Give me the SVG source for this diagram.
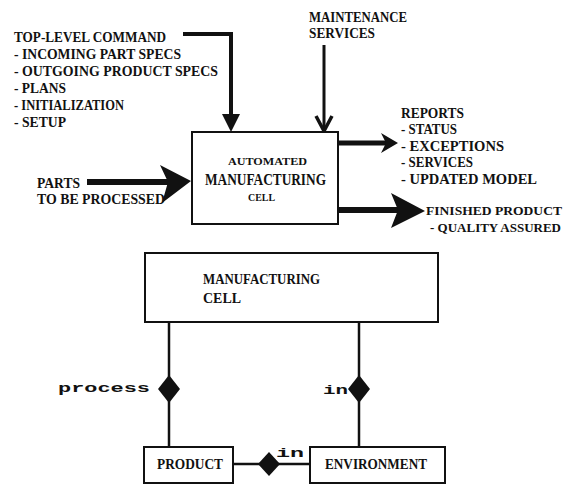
<svg xmlns="http://www.w3.org/2000/svg" width="567" height="486" viewBox="0 0 567 486">
<style>
  .t { font-family: "Liberation Serif", "DejaVu Serif", serif; font-weight: bold; font-size: 14px; fill: #111; }
  .t13 { font-family: "Liberation Serif", "DejaVu Serif", serif; font-weight: bold; font-size: 13px; fill: #111; }
  .sm { font-family: "Liberation Serif", "DejaVu Serif", serif; font-weight: bold; font-size: 11px; fill: #111; }
  .big { font-family: "Liberation Serif", "DejaVu Serif", serif; font-weight: bold; font-size: 17px; fill: #111; }
  .m { font-family: "Liberation Mono", "DejaVu Sans Mono", monospace; font-weight: bold; font-size: 13px; fill: #111; }
  .box { fill: #fff; stroke: #111; stroke-width: 2; }
  .ln { fill: none; stroke: #111; }
  .ah { fill: #111; stroke: none; }
</style>
<rect width="567" height="486" fill="#fff"/>

<g id="connectors">
  <!-- top-level command -->
  <polyline class="ln" stroke-width="4" points="183,34 231,34 231,118"/>
  <path class="ah" d="M222,114 L240,114 L231,132 Z"/>
  <!-- maintenance -->
  <line class="ln" stroke-width="3" x1="324" y1="45" x2="324" y2="130"/>
  <polyline class="ln" stroke-width="3.5" points="316,116 324,131 332,116"/>
  <!-- parts -->
  <line class="ln" stroke-width="6" x1="87" y1="182" x2="168" y2="182"/>
  <path class="ah" d="M160,165 L191,181 L162,203 L168,182 Z"/>
  <!-- reports -->
  <line class="ln" stroke-width="5" x1="338" y1="143" x2="388" y2="143"/>
  <path class="ah" d="M381,133 L398,143 L381,153 L386,143 Z"/>
  <!-- finished product -->
  <line class="ln" stroke-width="6" x1="338" y1="210" x2="400" y2="210"/>
  <path class="ah" d="M391,193 L425,211 L391,228 L398,210 Z"/>
  <!-- ER lines -->
  <line class="ln" stroke-width="2.5" x1="169" y1="322" x2="169" y2="447"/>
  <line class="ln" stroke-width="2.5" x1="359" y1="322" x2="359" y2="447"/>
  <line class="ln" stroke-width="2.5" x1="233" y1="464" x2="310" y2="464"/>
  <path class="ah" d="M169,375 L180,389 L169,403 L158,389 Z"/>
  <path class="ah" d="M359,375 L370,389 L359,403 L348,389 Z"/>
  <path class="ah" d="M269,452 L280,464 L269,476 L258,464 Z"/>
</g>

<g id="labels-top">
  <text class="t" x="14" y="42" textLength="152" lengthAdjust="spacingAndGlyphs">TOP-LEVEL COMMAND</text>
  <text class="t" x="14" y="59" textLength="167" lengthAdjust="spacingAndGlyphs">- INCOMING PART SPECS</text>
  <text class="t" x="14" y="76" textLength="204" lengthAdjust="spacingAndGlyphs">- OUTGOING PRODUCT SPECS</text>
  <text class="t" x="14" y="93" textLength="52" lengthAdjust="spacingAndGlyphs">- PLANS</text>
  <text class="t" x="14" y="110" textLength="110" lengthAdjust="spacingAndGlyphs">- INITIALIZATION</text>
  <text class="t" x="14" y="127" textLength="52" lengthAdjust="spacingAndGlyphs">- SETUP</text>

  <text class="t" x="309" y="22" textLength="98" lengthAdjust="spacingAndGlyphs">MAINTENANCE</text>
  <text class="t" x="309" y="38" textLength="66" lengthAdjust="spacingAndGlyphs">SERVICES</text>

  <text class="t" x="37" y="188" textLength="43" lengthAdjust="spacingAndGlyphs">PARTS</text>
  <text class="t" x="37" y="204" textLength="128" lengthAdjust="spacingAndGlyphs">TO BE PROCESSED</text>

  <text class="t" x="401" y="118" textLength="63" lengthAdjust="spacingAndGlyphs">REPORTS</text>
  <text class="t" x="401" y="134" textLength="56" lengthAdjust="spacingAndGlyphs">- STATUS</text>
  <text class="t" x="401" y="151" textLength="103" lengthAdjust="spacingAndGlyphs">- EXCEPTIONS</text>
  <text class="t" x="401" y="167" textLength="72" lengthAdjust="spacingAndGlyphs">- SERVICES</text>
  <text class="t" x="401" y="184" textLength="136" lengthAdjust="spacingAndGlyphs">- UPDATED MODEL</text>

  <text class="t13" x="426" y="215" textLength="136" lengthAdjust="spacingAndGlyphs">FINISHED PRODUCT</text>
  <text class="t13" x="430" y="232" textLength="131" lengthAdjust="spacingAndGlyphs">- QUALITY ASSURED</text>
</g>

<g id="node-automated-cell">
  <rect class="box" x="192" y="132" width="146" height="92"/>
  <text class="sm" x="228" y="165" textLength="79" lengthAdjust="spacingAndGlyphs">AUTOMATED</text>
  <text class="big" x="205" y="185" textLength="121" lengthAdjust="spacingAndGlyphs">MANUFACTURING</text>
  <text class="sm" x="248" y="201" textLength="27" lengthAdjust="spacingAndGlyphs">CELL</text>
</g>

<g id="node-manufacturing-cell">
  <rect class="box" x="145" y="253" width="293" height="69"/>
  <text class="t" x="203" y="284" textLength="117" lengthAdjust="spacingAndGlyphs">MANUFACTURING</text>
  <text class="t" x="203" y="303" textLength="38" lengthAdjust="spacingAndGlyphs">CELL</text>
</g>

<g id="node-product">
  <rect class="box" x="144" y="447" width="89" height="36"/>
  <text class="t" x="157" y="469" textLength="66" lengthAdjust="spacingAndGlyphs">PRODUCT</text>
</g>

<g id="node-environment">
  <rect class="box" x="310" y="447" width="135" height="36"/>
  <text class="t" x="325" y="469" textLength="102" lengthAdjust="spacingAndGlyphs">ENVIRONMENT</text>
</g>

<g id="relation-labels">
  <text class="m" x="58" y="392" textLength="92" lengthAdjust="spacingAndGlyphs">process</text>
  <text class="m" x="323" y="394" textLength="25" lengthAdjust="spacingAndGlyphs">in</text>
  <text class="m" x="276" y="457" textLength="28" lengthAdjust="spacingAndGlyphs">in</text>
</g>
</svg>
